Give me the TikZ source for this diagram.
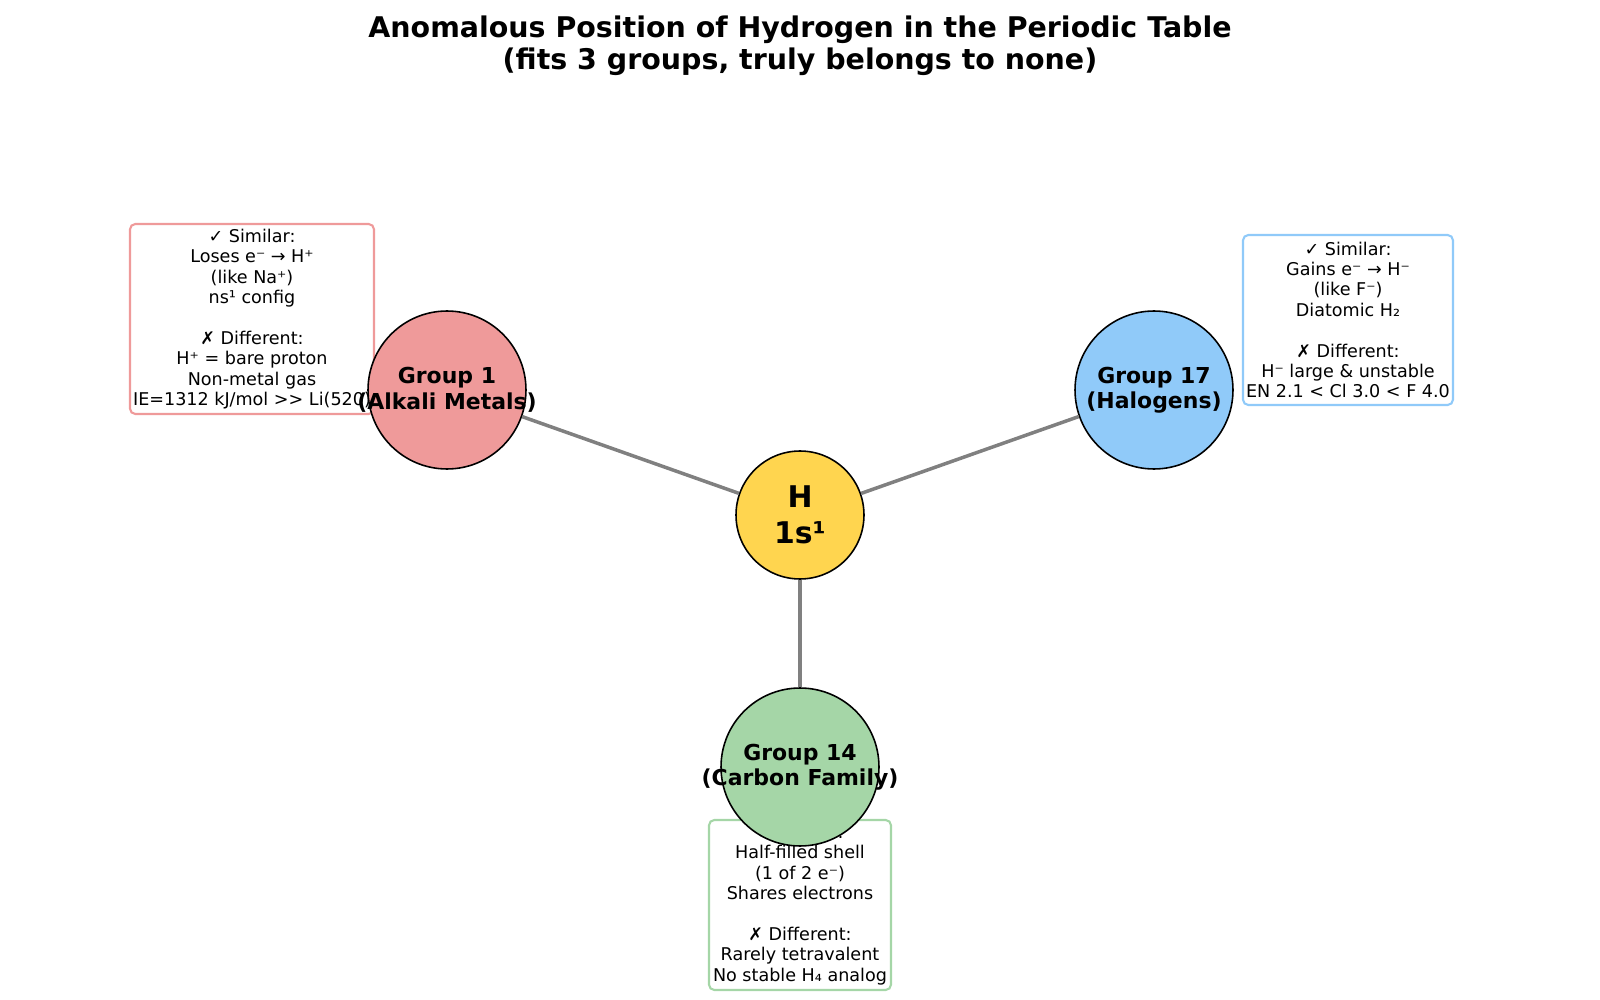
\documentclass[tikz,border=0pt]{standalone}
\usepackage{fontspec}
\setmainfont{DejaVu Sans}
\definecolor{alkalired}{HTML}{EF9A9A}
\definecolor{halogenblue}{HTML}{90CAF9}
\definecolor{carbongreen}{HTML}{A5D6A7}
\definecolor{hydrogenyellow}{HTML}{FFD54F}
\definecolor{linkgray}{HTML}{808080}
\begin{document}
\begin{tikzpicture}[
  x=0.02cm,
  y=-0.02cm,
  group/.style={
    draw=black,
    circle,
    minimum size=3.16cm,
    inner sep=0pt,
    line width=0.9pt
  },
  grouplabel/.style={
    align=center,
    font=\bfseries\fontsize{12.5}{14.5}\selectfont
  },
  infobox/.style={
    draw,
    rectangle,
    rounded corners=3pt,
    align=center,
    inner sep=0pt,
    line width=1.2pt,
    fill=white,
    font=\fontsize{10}{11.6}\selectfont
  },
  link/.style={draw=linkgray, line width=2pt}
]
\useasboundingbox (0,0) rectangle (1600,1000);

\node[align=center, font=\bfseries\fontsize{16.2}{18}\selectfont] (title) at (800, 46) {
  Anomalous Position of Hydrogen in the Periodic Table\\
  (fits 3 groups, truly belongs to none)
};

\node[infobox, draw=alkalired, minimum width=4.88cm, minimum height=3.8cm] (alkalibox) at (252, 319) {
  ✓ Similar:\\
  Loses e⁻ → H⁺\\
  (like Na⁺)\\
  ns¹ config\\[11.6pt]
  ✗ Different:\\
  H⁺ = bare proton\\
  Non-metal gas\\
  IE=1312 kJ/mol >{}> Li(520)
};

\node[infobox, draw=halogenblue, minimum width=4.2cm, minimum height=3.4cm] (halogenbox) at (1348, 320) {
  ✓ Similar:\\
  Gains e⁻ → H⁻\\
  (like F⁻)\\
  Diatomic H₂\\[11.6pt]
  ✗ Different:\\
  H⁻ large \& unstable\\
  EN 2.1 < Cl 3.0 < F 4.0
};

\node[infobox, draw=carbongreen, minimum width=3.64cm, minimum height=3.4cm] (carbonbox) at (800, 905) {
  ✓ Similar:\\
  Half-filled shell\\
  (1 of 2 e⁻)\\
  Shares electrons\\[11.6pt]
  ✗ Different:\\
  Rarely tetravalent\\
  No stable H₄ analog
};

\node[group, fill=alkalired, label={[grouplabel]center:Group 1\\(Alkali Metals)}] (alkali) at (447, 390) {};
\node[group, fill=halogenblue, label={[grouplabel]center:Group 17\\(Halogens)}] (halogen) at (1154, 390) {};
\node[group, fill=carbongreen, label={[grouplabel]center:Group 14\\(Carbon Family)}] (carbon) at (800, 767) {};

\node[group, fill=hydrogenyellow, minimum size=2.56cm, align=center, font=\bfseries\fontsize{17}{20.3}\selectfont] (hydrogen) at (800, 515) {H\\1s¹};

\draw[link] (hydrogen) -- (alkali);
\draw[link] (hydrogen) -- (halogen);
\draw[link] (hydrogen) -- (carbon);

\end{tikzpicture}
\end{document}
